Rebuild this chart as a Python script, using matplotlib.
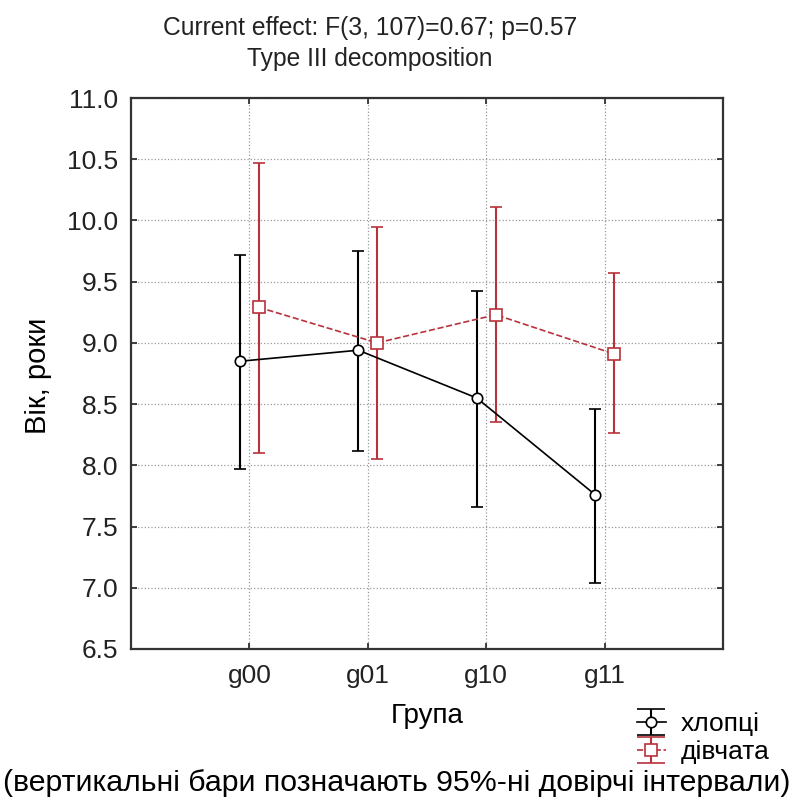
import matplotlib
matplotlib.use("Agg")
import matplotlib.pyplot as plt
from matplotlib.lines import Line2D
import numpy as np

plt.rcParams['font.family'] = ['Liberation Sans', 'DejaVu Sans']

# --- дані ---
groups = ['g00', 'g01', 'g10', 'g11']

boys_mean = [8.85, 8.94, 8.55, 7.76]
boys_low = [7.97, 8.12, 7.66, 7.04]
boys_high = [9.72, 9.75, 9.42, 8.46]

girls_mean = [9.29, 9.00, 9.23, 8.91]
girls_low = [8.10, 8.05, 8.35, 8.26]
girls_high = [10.47, 9.95, 10.11, 9.57]

title1 = 'Current effect: F(3, 107)=0.67; p=0.57'
title2 = 'Type III decomposition'
note = '(вертикальні бари позначають 95%-ні довірчі інтервали)'

red = '#b8323b'
x = np.arange(len(groups))
shift = 0.08

fig = plt.figure(figsize=(7.94, 8.10), dpi=100)
ax = fig.add_axes([0.165, 0.1988, 0.7456, 0.6802])

bm = np.array(boys_mean)
gm = np.array(girls_mean)
boys_err = [bm - np.array(boys_low), np.array(boys_high) - bm]
girls_err = [gm - np.array(girls_low), np.array(girls_high) - gm]

ax.errorbar(x - shift, bm, yerr=boys_err, color='black', lw=1.2,
            marker='o', ms=7.5, mfc='white', mec='black', mew=1.2,
            ecolor='black', elinewidth=1.5, capsize=4.3, capthick=1.5,
            label='хлопці', zorder=3)
ax.errorbar(x + shift, gm, yerr=girls_err, color=red, lw=1.2, ls='--',
            marker='s', ms=8, mfc='white', mec=red, mew=1.2,
            ecolor=red, elinewidth=1.5, capsize=4.3, capthick=1.5,
            label='дівчата', zorder=3)

ax.set_xlim(-1, 4)
ax.set_ylim(6.5, 11.0)
ax.set_xticks(x)
ax.set_xticklabels(groups)
ax.set_yticks(np.arange(6.5, 11.01, 0.5))
ax.yaxis.set_major_formatter(matplotlib.ticker.FormatStrFormatter('%.1f'))

ax.grid(True, ls=':', color='#999999', lw=0.9)
ax.set_axisbelow(True)
ax.tick_params(direction='in', length=4.5, width=1.2, top=True, right=True,
               labelsize=19, colors='#222222')
ax.tick_params(axis='y', pad=9)
ax.tick_params(axis='x', pad=11)
for s in ax.spines.values():
    s.set_linewidth(1.6)
    s.set_color('#333333')

fig.text(0.466, 0.9568, title1, ha='center', va='baseline', fontsize=17.7, color='#222222')
fig.text(0.466, 0.919, title2, ha='center', va='baseline', fontsize=17.7, color='#222222')
fig.text(0.538, 0.116, 'Група', ha='center', va='center', fontsize=20)
fig.text(0.048, 0.536, 'Вік, роки', ha='center', va='center', rotation=90, fontsize=21)
fig.text(0.5, 0.033, note, ha='center', va='center', fontsize=21.8)

leg = fig.legend(loc='center left', bbox_to_anchor=(0.802, 0.089), frameon=False,
                 fontsize=19, handlelength=1.1, handletextpad=0.55, labelspacing=0.14,
                 borderpad=0, borderaxespad=0, handleheight=0.6)
# широкі засічки в легенді, як у Statistica
for ln in leg.findobj(Line2D):
    if ln.get_marker() == '_':
        ln.set_markersize(20)

fig.savefig('out.png', dpi=100)
